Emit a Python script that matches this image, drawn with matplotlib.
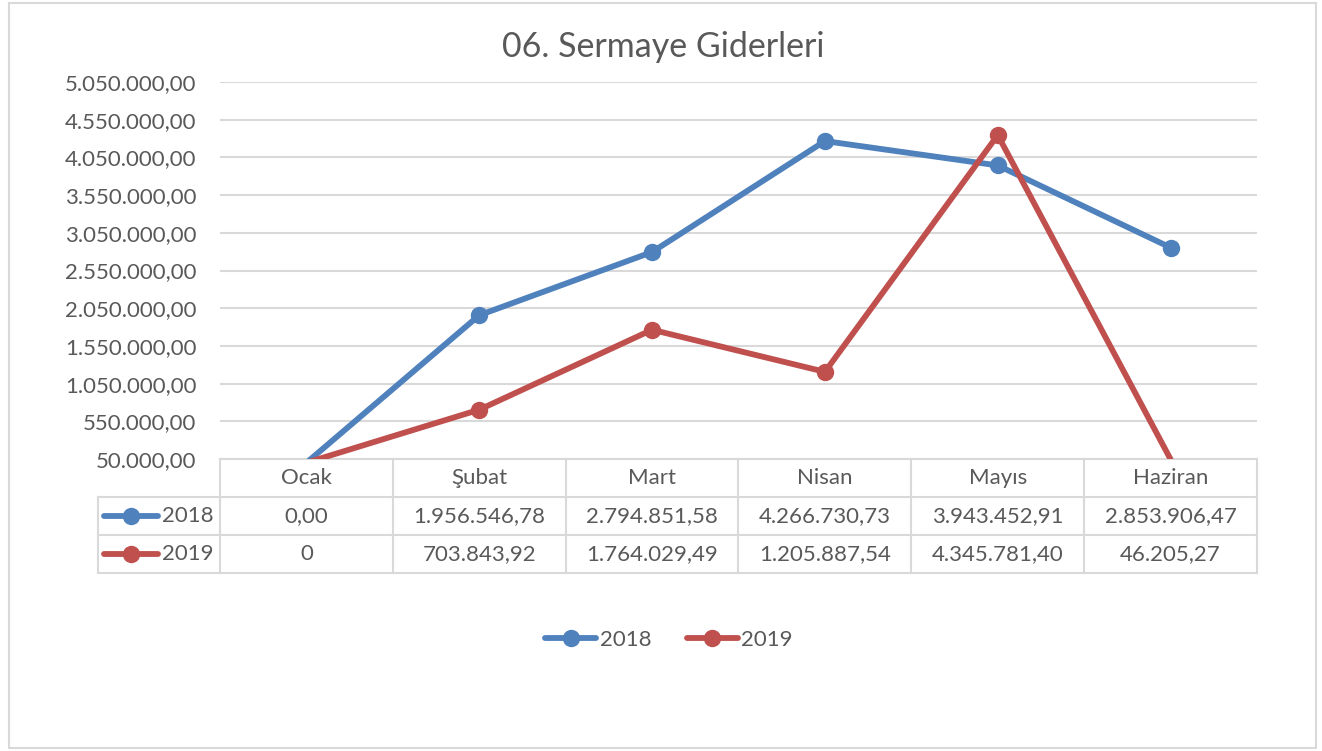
import matplotlib
matplotlib.use("Agg")
import matplotlib.pyplot as plt
import matplotlib.lines as mlines
import matplotlib.patches as mpatches
from matplotlib.ticker import FuncFormatter
import matplotlib.transforms as mtrans
import numpy as np

months = ["Ocak", "Şubat", "Mart", "Nisan", "Mayıs", "Haziran"]
series_names = ["2018", "2019"]
values_2018 = [0.00, 1956546.78, 2794851.58, 4266730.73, 3943452.91, 2853906.47]
values_2019 = [0.0, 703843.92, 1764029.49, 1205887.54, 4345781.40, 46205.27]
labels_2018 = ["0,00", "1.956.546,78", "2.794.851,58", "4.266.730,73", "3.943.452,91", "2.853.906,47"]
labels_2019 = ["0", "703.843,92", "1.764.029,49", "1.205.887,54", "4.345.781,40", "46.205,27"]
title = "06. Sermaye Giderleri"

colors = ["#4F81BD", "#C0504D"]
text_color = "#595959"
grid_color = "#D9D9D9"
FONT = "Lato"
FS = 16
LW = 4.2
MS = 11.5

W, H = 1322, 751
fig = plt.figure(figsize=(W / 100, H / 100), dpi=100)
fig.patch.set_facecolor("white")

# outer chart border
fig.add_artist(mpatches.Rectangle((9 / W, 3 / H), (1316 - 9) / W, (748 - 3) / H,
                                  transform=fig.transFigure, fill=False,
                                  edgecolor=grid_color, linewidth=1.5))

left, right, top, bottom = 220, 1257, 82, 459
ax = fig.add_axes([left / W, 1 - bottom / H, (right - left) / W, (bottom - top) / H])

ymin, ymax = 50000, 5050000
x = np.arange(len(months))
for vals, c, name in zip([values_2018, values_2019], colors, series_names):
    v = np.array(vals, dtype=float)
    ax.plot(x, v, color=c, linewidth=LW, solid_capstyle="round", clip_on=True, zorder=3)
    vis = v >= ymin
    ax.plot(x[vis], v[vis], linestyle="none", color=c, marker="o", markersize=MS, zorder=4)
    # legend proxy
    ax.plot([], [], color=c, linewidth=LW, marker="o", markersize=MS,
            solid_capstyle="round", label=name)

ax.set_xlim(-0.5, len(months) - 0.5)
ax.set_ylim(ymin, ymax)
ax.set_yticks([ymin + 500000 * k for k in range(11)])


def tr_fmt(v, pos=None):
    s = f"{v:,.2f}"
    return s.replace(",", "X").replace(".", ",").replace("X", ".")


ax.yaxis.set_major_formatter(FuncFormatter(tr_fmt))
ax.grid(axis="y", color=grid_color, linewidth=1.5)
ax.set_axisbelow(True)
ax.tick_params(axis="y", length=0, pad=17, labelsize=FS, labelcolor=text_color)
for lbl in ax.get_yticklabels():
    lbl.set_fontfamily(FONT)
ax.set_xticks([])
for s in ax.spines.values():
    s.set_visible(False)

# data table below the plot
tr = mtrans.blended_transform_factory(ax.transData, ax.transAxes)
rh = 38 / (bottom - top)
row_y = [0, -rh, -2 * rh, -3 * rh]
lc = -0.5 - (220 - 98) / 173
lw_t = 1.5
ax.add_line(mlines.Line2D([-0.5, len(months) - 0.5], [0, 0], transform=tr, color=grid_color, lw=lw_t, clip_on=False))
for yy in row_y[1:]:
    ax.add_line(mlines.Line2D([lc, len(months) - 0.5], [yy, yy], transform=tr, color=grid_color, lw=lw_t, clip_on=False))
for i in range(len(months) + 1):
    ax.add_line(mlines.Line2D([i - 0.5, i - 0.5], [0, row_y[3]], transform=tr, color=grid_color, lw=lw_t, clip_on=False))
ax.add_line(mlines.Line2D([lc, lc], [row_y[1], row_y[3]], transform=tr, color=grid_color, lw=lw_t, clip_on=False))

for i, m in enumerate(months):
    ax.text(i, (row_y[0] + row_y[1]) / 2, m, transform=tr, ha="center", va="center",
            fontsize=FS, color=text_color, family=FONT)
    ax.text(i, (row_y[1] + row_y[2]) / 2, labels_2018[i], transform=tr, ha="center", va="center",
            fontsize=FS, color=text_color, family=FONT)
    ax.text(i, (row_y[2] + row_y[3]) / 2, labels_2019[i], transform=tr, ha="center", va="center",
            fontsize=FS, color=text_color, family=FONT)

k0 = -0.5 - (220 - 104) / 173
k1 = -0.5 - (220 - 158) / 173
for r, (name, c) in enumerate(zip(series_names, colors)):
    yc = (row_y[r + 1] + row_y[r + 2]) / 2
    ax.add_line(mlines.Line2D([k0, k1], [yc, yc], transform=tr, color=c, lw=LW,
                              solid_capstyle="round", clip_on=False))
    ax.add_line(mlines.Line2D([(k0 + k1) / 2], [yc], transform=tr, color=c, marker="o",
                              markersize=MS, clip_on=False))
    ax.text(-0.5 - (220 - 162) / 173, yc, name, transform=tr, ha="left", va="center",
            fontsize=FS, color=text_color, family=FONT)

fig.text(663 / W, 1 - 47 / H, title, ha="center", va="center", fontsize=24.5,
         color=text_color, family=FONT)

handles, lbls = ax.get_legend_handles_labels()
leg = fig.legend(handles, lbls, loc="center", bbox_to_anchor=(669 / W, 1 - 640 / H),
                 ncol=2, frameon=False, handlelength=2.3, handletextpad=0.15,
                 columnspacing=1.6, prop={"family": FONT, "size": FS})
for t in leg.get_texts():
    t.set_color(text_color)

fig.savefig("out.png", dpi=100, facecolor="white")
